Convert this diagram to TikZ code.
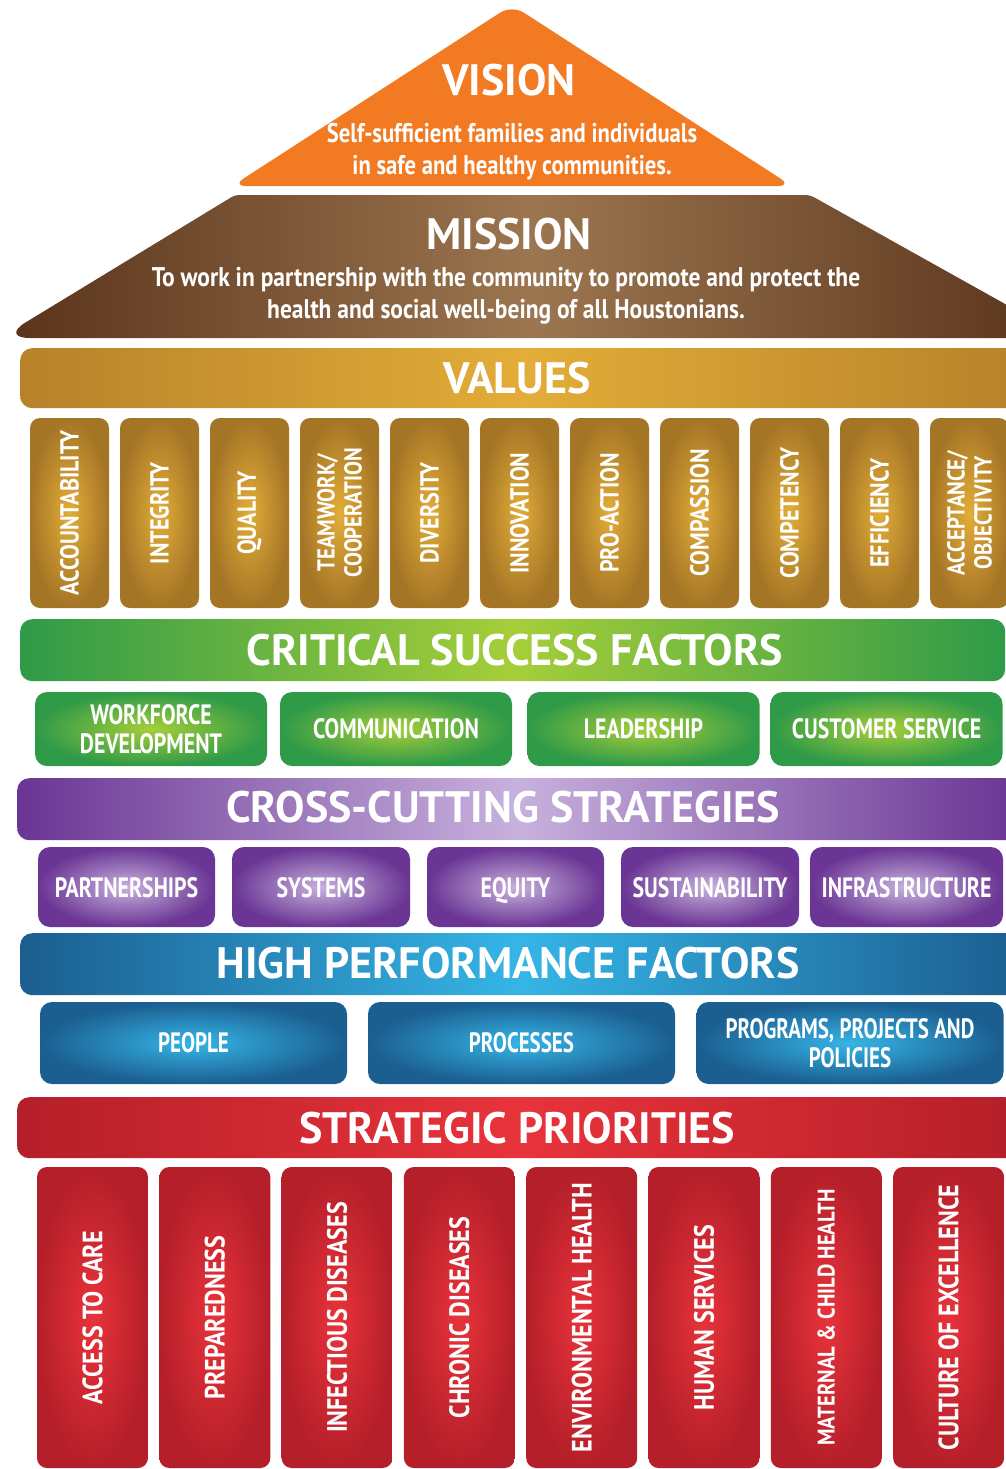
\documentclass[tikz,border=0pt]{standalone}
\usepackage{fontspec}
\setmainfont{PT Sans}
\newfontfamily\fhead{PT Sans}
\newfontfamily\fsemi[FakeStretch=0.86]{PT Sans}
\newfontfamily\fval[FakeStretch=0.85]{PT Sans}
\newfontfamily\fbody[FakeStretch=0.87]{PT Sans}
\newfontfamily\fvis[FakeStretch=0.84]{PT Sans}
\newfontfamily\fcond[FakeStretch=0.78]{PT Sans}
\newfontfamily\fhpf[FakeStretch=0.75]{PT Sans}
\definecolor{visionc}{HTML}{F27A22}
\definecolor{brownE}{HTML}{58331A}
\definecolor{brownM}{HTML}{9C7650}
\definecolor{goldE}{HTML}{B7822A}
\definecolor{goldM}{HTML}{E2AD38}
\definecolor{greenE}{HTML}{2F9A48}
\definecolor{greenM}{HTML}{A6CE39}
\definecolor{purpE}{HTML}{6A3594}
\definecolor{purpM}{HTML}{C7B1DD}
\definecolor{blueE}{HTML}{1B5E90}
\definecolor{blueM}{HTML}{35B5E6}
\definecolor{redE}{HTML}{B51F29}
\definecolor{redM}{HTML}{E8333B}
\begin{document}
\begin{tikzpicture}[x=1pt,y=-1pt,
  txt/.style={text=white, align=center, inner sep=0pt},
  headtxt/.style={txt, font=\fhead\bfseries\fontsize{44}{48}\selectfont},
  bar/.style={rounded corners=12pt, inner sep=0pt, anchor=north west},
  hbar/.style 2 args={bar, shade, left color=#1, right color=#1, middle color=#2},
  pillar/.style={rounded corners=10pt, inner sep=0pt},
  glowbox/.style 2 args={rounded corners=12pt, inner sep=0pt, shade, shading=radial, inner color=#2, outer color=#1},
  valtxt/.style={txt, rotate=90},
  sptxt/.style={txt, rotate=90},
  boxtxt/.style={txt, font=\fcond\bfseries\fontsize{28}{29}\selectfont},
  bodytxt/.style={txt, font=\fbody\bfseries\fontsize{27}{32}\selectfont}]
\useasboundingbox (0,0) rectangle (1006,1469);
\clip (0,0) rectangle (1006,1469);

% Roof: vision triangle
\fill[visionc, rounded corners=14pt] (512,5) -- (792,186) -- (232,186) -- cycle;
\node[headtxt] (vision) at (509,80) {VISION};
\node[bodytxt, font=\fvis\bfseries\fontsize{27}{32}\selectfont] (visiontext) at (512,152) {Self-sufficient families and individuals\\in safe and healthy communities.};

% Mission trapezoid
\shade[left color=brownE, right color=brownE, middle color=brownM]
  (235,195) [rounded corners=4pt] -- (810,195) -- (1066,338) [rounded corners=30pt] -- (0,338) [rounded corners=4pt] -- cycle;
\node[headtxt] (mission) at (509,234) {MISSION};
\node[bodytxt] (missiontext) at (506,296) {To work in partnership with the community to promote and protect the\\health and social well-being of all Houstonians.};

% Values
\node[hbar={goldE}{goldM}, minimum width=1010pt, minimum height=60pt] (valuesbar) at (20,348) {};
\node[headtxt] (values) at (517,378) {VALUES};
\foreach \t/\fs [count=\i from 0] in {ACCOUNTABILITY/26, INTEGRITY/26, QUALITY/26, {TEAMWORK/\\COOPERATION}/24.5, DIVERSITY/26, INNOVATION/26, PRO-ACTION/26, COMPASSION/26, COMPETENCY/26, EFFICIENCY/26, {ACCEPTANCE/\\OBJECTIVITY}/24.5}
  \node[pillar, valtxt, font=\fval\bfseries\fontsize{\fs}{27}\selectfont,
        shade, shading=radial, inner color=goldM, outer color=goldE!90!black,
        minimum width=190pt, minimum height=79pt] (val\i) at (69.5+90*\i,513) {\t};

% Critical success factors
\node[hbar={greenE}{greenM}, minimum width=985pt, minimum height=62pt] (csfbar) at (20,619) {};
\node[headtxt] (csf) at (515,650) {CRITICAL SUCCESS FACTORS};
\foreach \t/\cx [count=\i] in {{WORKFORCE\\DEVELOPMENT}/151, COMMUNICATION/396, LEADERSHIP/643.5, CUSTOMER SERVICE/886.5}
  \node[glowbox={greenE}{greenM}, boxtxt, minimum width=232pt, minimum height=74pt] (csf\i) at (\cx,729) {\t};

% Cross-cutting strategies
\node[hbar={purpE}{purpM}, minimum width=1000pt, minimum height=62pt] (ccsbar) at (17,778) {};
\node[headtxt] (ccs) at (503,807) {CROSS-CUTTING STRATEGIES};
\foreach \t/\cx/\w [count=\i] in {PARTNERSHIPS/126.5/177, SYSTEMS/321/178, EQUITY/515.5/177, SUSTAINABILITY/710/178, INFRASTRUCTURE/906.5/193}
  \node[glowbox={purpE}{purpM}, boxtxt, text depth=0pt, minimum width=\w pt, minimum height=80pt] (ccs\i) at (\cx,887) {\t};

% High performance factors
\node[hbar={blueE}{blueM}, minimum width=1000pt, minimum height=62pt] (hpfbar) at (20,933) {};
\node[headtxt] (hpf) at (508,963) {HIGH PERFORMANCE FACTORS};
\foreach \t/\cx [count=\i] in {PEOPLE/193.5, PROCESSES/521.5, {PROGRAMS, PROJECTS AND\\POLICIES}/850}
  \node[glowbox={blueE}{blueM}, txt, font=\fhpf\bfseries\fontsize{28}{29}\selectfont,
        minimum width=307pt, minimum height=82pt] (hpf\i) at (\cx,1043) {\t};

% Strategic priorities
\node[hbar={redE}{redM}, minimum width=1000pt, minimum height=61pt] (spbar) at (17,1097) {};
\node[headtxt] (sp) at (517,1128) {STRATEGIC PRIORITIES};
\foreach \t/\fs [count=\i from 0] in {ACCESS TO CARE/28, PREPAREDNESS/28, INFECTIOUS DISEASES/28, CHRONIC DISEASES/28, ENVIRONMENTAL HEALTH/28, HUMAN SERVICES/28, MATERNAL \& CHILD HEALTH/24, CULTURE OF EXCELLENCE/28}
  \node[pillar, sptxt, font=\fsemi\bfseries\fontsize{\fs}{30}\selectfont,
        shade, shading=radial, inner color=redM, outer color=redE,
        minimum width=301pt, minimum height=111pt] (sp\i) at (92.5+122.3*\i,1317.5) {\t};
\end{tikzpicture}
\end{document}
